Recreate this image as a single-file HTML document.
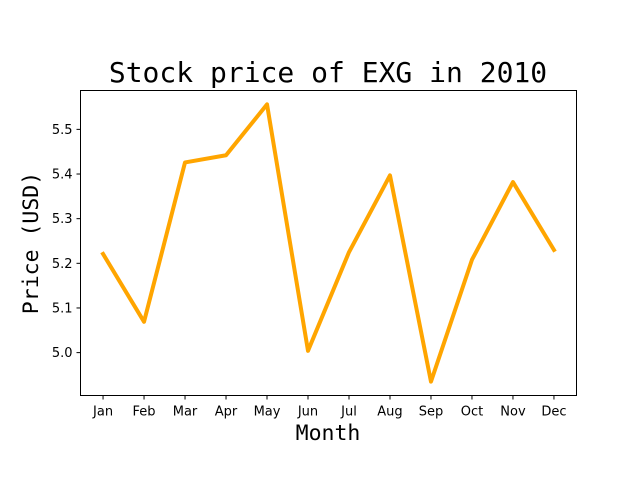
<!DOCTYPE html>
<html><head><meta charset="utf-8"><style>
body{margin:0;background:#fff;}
svg{display:block;}
</style></head><body>
<svg id="chart" width="640" height="480" xmlns="http://www.w3.org/2000/svg">
<rect width="640" height="480" fill="#fff"/>
<text x="328" y="82" text-anchor="middle" font-family="DejaVu Sans Mono, Liberation Mono, monospace" font-size="28">Stock price of EXG in 2010</text>
<text x="328" y="440" text-anchor="middle" font-family="DejaVu Sans Mono, Liberation Mono, monospace" font-size="21.5">Month</text>
<text transform="translate(38,243) rotate(-90)" text-anchor="middle" font-family="DejaVu Sans Mono, Liberation Mono, monospace" font-size="21.5">Price (USD)</text>
<g id="ticks"></g>
<polyline id="line" fill="none" stroke="#ffa500" stroke-width="4" stroke-linejoin="round" stroke-linecap="square"/>
<rect x="80.5" y="90.5" width="496" height="305" fill="none" stroke="#000" stroke-width="1"/>
</svg>
<script>
const months = ["Jan","Feb","Mar","Apr","May","Jun","Jul","Aug","Sep","Oct","Nov","Dec"];
const prices = [5.221,5.069,5.426,5.442,5.556,5.004,5.225,5.397,4.935,5.208,5.382,5.230];
const yTicks = [5.0,5.1,5.2,5.3,5.4,5.5];
const L=80.5,R=576.5,T=90.5,B=395.5;
const ymin=Math.min(...prices), ymax=Math.max(...prices), pad=(ymax-ymin)*0.05;
const y0=ymin-pad, y1=ymax+pad;
const n=months.length;
function xs(i){return L+(i+0.55)/(n-1+1.1)*(R-L);}
function ys(v){return B-(v-y0)/(y1-y0)*(B-T);}
const ns="http://www.w3.org/2000/svg";
const g=document.getElementById('ticks');
months.forEach((m,i)=>{
  const x=xs(i);
  const t=document.createElementNS(ns,'line');
  t.setAttribute('x1',x);t.setAttribute('x2',x);t.setAttribute('y1',B);t.setAttribute('y2',B+4);t.setAttribute('stroke','#000');
  
  
  g.appendChild(t);
  const l=document.createElementNS(ns,'text');
  l.setAttribute('x',x);l.setAttribute('y',B+20);l.setAttribute('text-anchor','middle');
  l.setAttribute('font-family','DejaVu Sans, Liberation Sans, sans-serif');l.setAttribute('font-size','13');
  l.textContent=m;
  
  
  g.appendChild(l);
});
yTicks.forEach(v=>{
  const y=ys(v);
  const t=document.createElementNS(ns,'line');
  t.setAttribute('x1',L-4);t.setAttribute('x2',L);t.setAttribute('y1',y);t.setAttribute('y2',y);t.setAttribute('stroke','#000');
  
  
  g.appendChild(t);
  const l=document.createElementNS(ns,'text');
  l.setAttribute('x',L-8);l.setAttribute('y',y+4.5);l.setAttribute('text-anchor','end');
  l.setAttribute('font-family','DejaVu Sans, Liberation Sans, sans-serif');l.setAttribute('font-size','13');
  l.textContent=v.toFixed(1);
  
  
  g.appendChild(l);
});
document.getElementById('line').setAttribute('points',prices.map((p,i)=>xs(i)+','+ys(p)).join(' '));
</script>
</body></html>
